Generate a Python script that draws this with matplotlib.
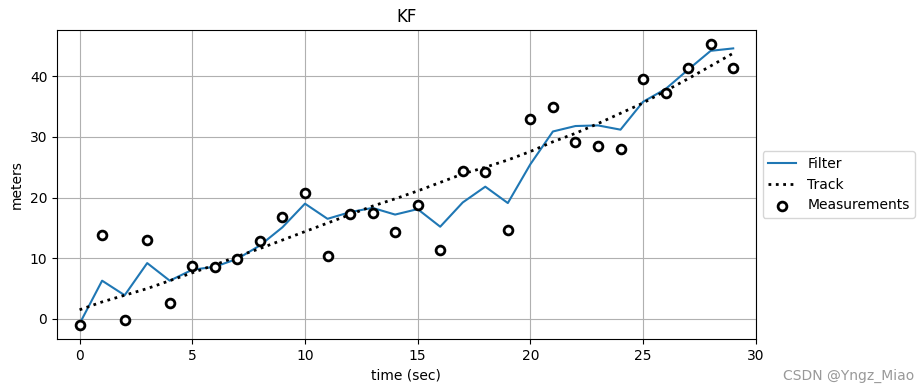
import matplotlib
matplotlib.use("Agg")
import matplotlib.pyplot as plt

t = list(range(30))

measurements = [-1.0, 13.9, -0.2, 13.0, 2.6, 8.8, 8.5, 9.8, 12.9, 16.8,
                20.7, 10.3, 17.3, 17.4, 14.3, 18.7, 11.4, 24.4, 24.3, 14.6,
                33.0, 35.0, 29.2, 28.5, 28.0, 39.6, 37.3, 41.3, 45.3, 41.4]

filt = [-0.8, 6.3, 3.9, 9.2, 6.3, 8.1, 8.6, 9.9, 12.1, 15.1,
        19.0, 16.5, 17.6, 18.3, 17.2, 18.1, 15.2, 19.2, 21.8, 19.1,
        25.5, 30.9, 31.8, 31.9, 31.2, 35.8, 37.9, 41.1, 44.2, 44.6]

track = [1.5, 2.8, 3.9, 5.0, 6.3, 7.6, 8.9, 10.3, 11.6, 13.0,
         14.4, 15.8, 17.2, 18.6, 19.8, 21.1, 22.5, 23.9, 25.0, 26.2,
         27.6, 29.2, 30.6, 32.2, 33.9, 35.6, 37.6, 39.6, 41.7, 43.8]

fig = plt.figure(figsize=(9.23, 3.91), dpi=100)
ax = fig.add_axes([0.0618, 0.133, 0.757, 0.79])

ax.plot(t, filt, color="C0", label="Filter")
ax.plot(t, track, "k:", lw=2, label="Track")
ax.scatter(t, measurements, s=40, facecolor="white", edgecolor="k",
           lw=2, label="Measurements", zorder=3)

ax.set_xlim(-1, 30)
ax.set_title("KF")
ax.set_xlabel("time (sec)")
ax.set_ylabel("meters")
ax.grid(True)
ax.legend(loc="center left", bbox_to_anchor=(1.0, 0.5))

fig.text(0.99, 0.02, "CSDN @Yngz_Miao", ha="right", va="bottom",
         color="#999999", fontsize=10)

fig.savefig("out.png", dpi=100)
